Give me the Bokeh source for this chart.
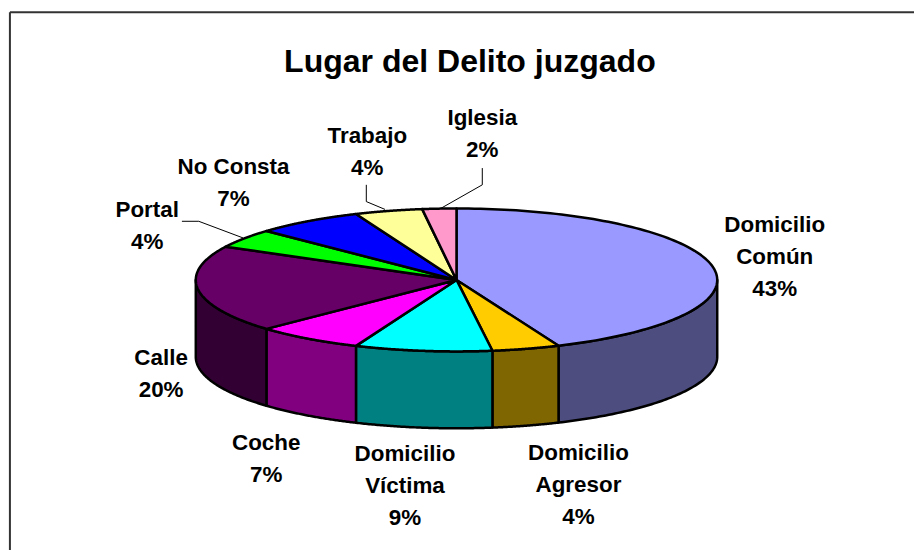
import numpy as np
from bokeh.plotting import figure
from bokeh.models import Range1d
from bokeh.core.properties import value
from bokeh.embed import file_html
from bokeh.resources import INLINE

# Data
categories = ["Domicilio Común", "Domicilio Agresor", "Domicilio Víctima", "Coche", "Calle",
              "Portal", "No Consta", "Trabajo", "Iglesia"]
shares = [43.6, 4.2, 8.5, 6.7, 19.7, 4.3, 6.7, 4.2, 2.1]
pct_labels = ["43%", "4%", "9%", "7%", "20%", "4%", "7%", "4%", "2%"]
top_colors = ["#9999FF", "#FFCC00", "#00FFFF", "#FF00FF", "#660066", "#00FF00", "#0000FF", "#FFFF99", "#FF99CC"]
side_colors = ["#4D4D80", "#806600", "#008080", "#800080", "#330033", "#008000", "#000080", "#808050", "#804D66"]
title = "Lugar del Delito juzgado"

# Layout (reference pixels)
CX, CY, RX, RY, DEPTH = 460.0, 283.5, 263.0, 72.5, 78.0
FONT = "Liberation Sans"
LABEL_SIZE = "22.4px"
LINE_H = 32.5
label_lines = [["Domicilio", "Común"], ["Domicilio", "Agresor"], ["Domicilio", "Víctima"], ["Coche"], ["Calle"],
               ["Portal"], ["No Consta"], ["Trabajo"], ["Iglesia"]]
label_x = [781, 583, 408, 268, 162, 148, 235, 370, 486]
label_y = [227, 459, 460, 448, 362, 212, 168, 137, 119]
leaders = [([486, 486, 444], [170, 187, 211]),
           ([369, 369, 388], [187, 204, 212]),
           ([183, 200, 245], [224, 224, 241])]

p = figure(width=914, height=550, output_backend="svg", toolbar_location=None,
           x_range=Range1d(0, 922), y_range=Range1d(558, 0),
           min_border=0, outline_line_color=None, background_fill_color="white")
p.axis.visible = False
p.grid.visible = False

# Chart frame: visible at top and left only
p.line([9.5, 9.5], [558, 12], line_color="#333333", line_width=2)
p.line([9.5, 922], [12, 12], line_color="#333333", line_width=2)

def px(a):
    return CX + RX * np.sin(a)

def py(a):
    return CY - RY * np.cos(a)

edges = np.cumsum([0.0] + shares)
edges = edges / edges[-1] * 2 * np.pi

# Side wall, front half only
for i in range(len(shares)):
    a0, a1 = max(edges[i], np.pi / 2), min(edges[i + 1], 3 * np.pi / 2)
    if a1 <= a0:
        continue
    t = np.linspace(a0, a1, 80)
    xs = np.r_[px(t), px(t[::-1])]
    ys = np.r_[py(t), py(t[::-1]) + DEPTH]
    p.patch(xs, ys, fill_color=side_colors[i], line_color="black", line_width=2.5, line_join="round")

# Top face
for i in range(len(shares)):
    t = np.linspace(edges[i], edges[i + 1], 120)
    xs = np.r_[CX, px(t)]
    ys = np.r_[CY, py(t)]
    p.patch(xs, ys, fill_color=top_colors[i], line_color="black", line_width=2.5, line_join="round")

# Leader lines
for lx, ly in leaders:
    p.line(lx, ly, line_color="black", line_width=1)

# Labels
xs, ys, texts = [], [], []
for i in range(len(categories)):
    lines = label_lines[i] + [pct_labels[i]]
    for j, s in enumerate(lines):
        xs.append(label_x[i]); ys.append(label_y[i] + j * LINE_H); texts.append(s)
p.text(xs, ys, text=texts, text_font=value(FONT), text_font_style="bold", text_font_size=value(LABEL_SIZE),
       text_align="center", text_baseline="middle", text_color="black")
p.text([473.5], [61], text=[title], text_font=value(FONT), text_font_style="bold", text_font_size=value("32px"),
       text_align="center", text_baseline="middle", text_color="black")

open("out.html", "w").write(file_html(p, INLINE))
